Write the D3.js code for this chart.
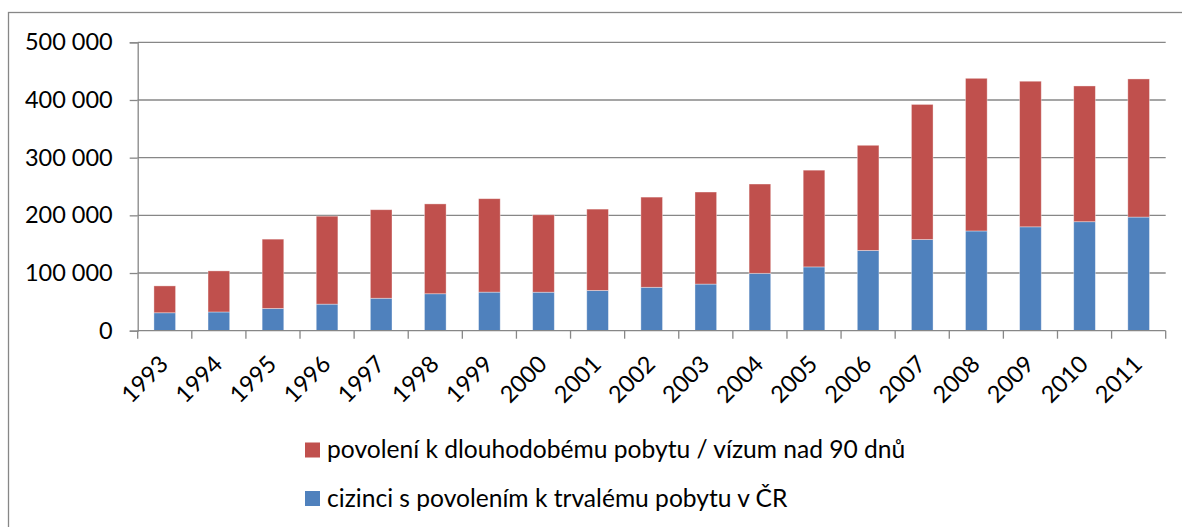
<!DOCTYPE html>
<html>
<head>
<meta charset="utf-8">
<script src="https://cdn.jsdelivr.net/npm/d3@7"></script>
<style>
  html, body { margin: 0; padding: 0; background: #fff; }
  svg { display: block; font-family: Lato, "Open Sans", sans-serif; }
</style>
</head>
<body>
<svg id="chart" width="1182" height="527"></svg>
<script>
const years = ["1993","1994","1995","1996","1997","1998","1999","2000","2001","2002","2003","2004","2005","2006","2007","2008","2009","2010","2011"];
const permanent = [31072, 32468, 38557, 46070, 56263, 64050, 66891, 66754, 69816, 75249, 80844, 99467, 110598, 139185, 158092, 172927, 180097, 188952, 197011];
const totals = [77668, 103679, 158730, 198571, 209735, 219832, 228862, 200951, 210794, 231608, 240421, 254294, 278312, 321456, 392315, 437565, 432503, 424291, 436476];
const longTerm = totals.map((t, i) => t - permanent[i]);
const yTicks = [0, 100000, 200000, 300000, 400000, 500000];
const seriesNames = ["povolení k dlouhodobému pobytu / vízum nad 90 dnů", "cizinci s povolením k trvalému pobytu v ČR"];
const seriesColors = ["#C0504D", "#4F81BD"];

(function () {
const svg = d3.select("#chart");
const pLeft = 137.7, pRight = 1165.7, pTop = 42.3, pBottom = 330.7;
const gray = "#878787";

// outer chart border (right/bottom beyond frame)
svg.append("rect").attr("x", 8.5).attr("y", 12.5).attr("width", 1300).attr("height", 700)
  .attr("fill", "none").attr("stroke", gray).attr("stroke-width", 1.3);

const x = d3.scaleBand().domain(years).range([pLeft, pRight]).paddingInner(0.6).paddingOuter(0.3);
const xb = d3.scaleBand().domain(years).range([pLeft, pRight]);
const y = d3.scaleLinear().domain([0, 500000]).range([pBottom, pTop]);

// gridlines
svg.append("g").selectAll("line").data(yTicks.filter(d => d > 0)).join("line")
  .attr("x1", pLeft).attr("x2", pRight)
  .attr("y1", d => y(d)).attr("y2", d => y(d))
  .attr("stroke", gray).attr("stroke-width", 1.3);

// y axis
const fmt = d => d === 0 ? "0" : d3.format(",")(d).replace(/,/g, " ");
const yAxis = d3.axisLeft(y).tickValues(yTicks).tickSize(8).tickPadding(17).tickFormat(fmt);
const gy = svg.append("g").attr("transform", `translate(${pLeft},0)`).call(yAxis);
gy.select(".domain").attr("stroke", gray).attr("stroke-width", 1.3);
gy.selectAll(".tick line").attr("stroke", gray).attr("stroke-width", 1.3);
gy.selectAll(".tick text").attr("font-size", 23.5).attr("fill", "#000").attr("font-family", "Lato, sans-serif");

// bars
const stackData = years.map((yr, i) => ({ year: yr, permanent: permanent[i], longTerm: longTerm[i] }));
const stack = d3.stack().keys(["permanent", "longTerm"])(stackData);
const colorByKey = { permanent: seriesColors[1], longTerm: seriesColors[0] };
svg.append("g").selectAll("g").data(stack).join("g")
  .attr("fill", d => colorByKey[d.key])
  .selectAll("rect").data(d => d).join("rect")
  .attr("x", d => x(d.data.year))
  .attr("width", x.bandwidth())
  .attr("y", d => y(d[1]))
  .attr("height", d => y(d[0]) - y(d[1]))
  .attr("stroke", "rgba(255,255,255,0.45)").attr("stroke-width", 0.8);

// x axis
const gx = svg.append("g").attr("transform", `translate(0,${pBottom})`);
gx.append("line").attr("x1", pLeft).attr("x2", pRight).attr("stroke", gray).attr("stroke-width", 1.3);
const bounds = years.map(d => xb(d)).concat([pRight]);
gx.selectAll("line.tk").data(bounds).join("line").attr("class", "tk")
  .attr("x1", d => d).attr("x2", d => d).attr("y1", 0).attr("y2", 8)
  .attr("stroke", gray).attr("stroke-width", 1.3);
gx.selectAll("text").data(years).join("text")
  .attr("transform", d => `translate(${xb(d) + xb.bandwidth() / 2 + 5},${35}) rotate(-45)`)
  .attr("text-anchor", "end")
  .attr("font-size", 23.5).attr("fill", "#000")
  .text(d => d);

// legend
const legend = svg.append("g");
const legendRows = [450, 498.5];
seriesNames.forEach((name, i) => {
  legend.append("rect").attr("x", 305).attr("y", legendRows[i] - 7.5).attr("width", 15).attr("height", 15)
    .attr("fill", seriesColors[i]);
  legend.append("text").attr("x", 327).attr("y", legendRows[i]).attr("dy", "0.33em")
    .attr("font-size", 24.6).attr("fill", "#000").text(name);
});
})();
</script>
</body>
</html>
